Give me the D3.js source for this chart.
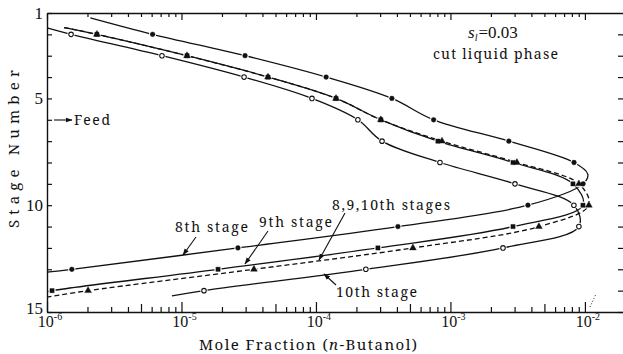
<!DOCTYPE html>
<html><head><meta charset="utf-8">
<script src="https://cdn.jsdelivr.net/npm/d3@7"></script>
<style>
body{margin:0;background:#fff}
svg{display:block}
svg text{font-family:"Noto Serif";}
svg text.num{font-family:"Liberation Serif";}
</style>
</head><body>
<svg id="chart" width="623" height="354" font-family="Noto Serif"></svg>
<script>
// Axis ticks
const stageLabels = [1, 5, 10, 15];
const stageTicks = d3.range(1, 16);
const decadeTicks = [1e-6, 1e-5, 1e-4, 1e-3, 1e-2];
const decadeExps = ["-6", "-5", "-4", "-3", "-2"];

// Liquid-phase n-butanol profile, side cut at the 8th stage (filled circles)
const cut8Stage = [1.23, 2, 3, 4, 5, 6, 7, 8, 8.54, 9, 10, 11, 12, 13, 13.13];
const cut8Frac  = [2.1e-6, 6.1e-6, 2.97e-5, 1.19e-4, 3.67e-4, 7.5e-4, 2.72e-3, 8.3e-3, 1.05e-2, 9.7e-3, 3.77e-3, 4.07e-4, 2.63e-5, 1.53e-6, 1.0e-6];

// Side cut at the 9th stage (filled squares)
const cut9Stage = [1.68, 2, 3, 4, 5, 6, 7, 8, 9, 10, 11, 12, 13, 14, 14.06];
const cut9Frac  = [1.34e-6, 2.35e-6, 1.10e-5, 4.40e-5, 1.41e-4, 3.04e-4, 8.07e-4, 2.92e-3, 8.15e-3, 9.67e-3, 2.92e-3, 2.89e-4, 1.87e-5, 1.09e-6, 1.0e-6];

// Side cut at the 8th, 9th and 10th stages together (dashed, triangles)
const cutAllStage = [1.68, 2, 3, 4, 5, 6, 7, 8, 9, 10, 11, 12, 13, 14, 14.3];
const cutAllFrac  = [1.34e-6, 2.35e-6, 1.10e-5, 4.40e-5, 1.41e-4, 3.04e-4, 8.65e-4, 3.12e-3, 9.02e-3, 1.07e-2, 4.55e-3, 5.26e-4, 3.46e-5, 2.02e-6, 1.0e-6];

// Side cut at the 10th stage (open circles)
const cut10Stage = [1.70, 2, 3, 4, 5, 6, 7, 8, 9, 10, 11, 12, 13, 14, 14.25];
const cut10Frac  = [1e-6, 1.51e-6, 7.16e-6, 2.92e-5, 9.34e-5, 2.05e-4, 3.10e-4, 8.36e-4, 3.02e-3, 8.28e-3, 9.02e-3, 2.46e-3, 2.35e-4, 1.47e-5, 8.5e-6];

const W = 623, H = 354;
const svg = d3.select("#chart");

const x = d3.scaleLog().domain([1e-6, 1.92e-2]).range([47, 623]);
const y = d3.scaleLinear().domain([1, 15]).range([13, 312]);

// minor log ticks within the visible range
const minor2 = [], minor5 = [];
decadeTicks.forEach(d => {
  for (let k = 2; k <= 9; k++) {
    const v = d * k;
    if (v > x.domain()[1]) continue;
    (k === 5 ? minor5 : minor2).push(v);
  }
});

const ink = "#111";
function styleAxis(g, keepDomain) {
  g.attr("font-family", null).attr("font-size", null);
  g.selectAll("line").attr("stroke", ink).attr("stroke-width", 1.2);
  g.selectAll("text").remove();
  if (keepDomain) g.select(".domain").attr("stroke", ink).attr("stroke-width", 1.4);
  else g.select(".domain").remove();
}

// bottom axis (ticks point inward)
const gb = svg.append("g").attr("transform", `translate(0,${y(15)})`);
gb.call(d3.axisBottom(x).tickValues(decadeTicks).tickSize(-10).tickSizeOuter(0)); styleAxis(gb, true);
const gb5 = svg.append("g").attr("transform", `translate(0,${y(15)})`);
gb5.call(d3.axisBottom(x).tickValues(minor5).tickSize(-8)); styleAxis(gb5, false);
const gbm = svg.append("g").attr("transform", `translate(0,${y(15)})`);
gbm.call(d3.axisBottom(x).tickValues(minor2).tickSize(-5)); styleAxis(gbm, false);

// top axis
const gt = svg.append("g").attr("transform", `translate(0,${y(1)})`);
gt.call(d3.axisTop(x).tickValues(decadeTicks).tickSize(-7).tickSizeOuter(0)); styleAxis(gt, true);
const gtm = svg.append("g").attr("transform", `translate(0,${y(1)})`);
gtm.call(d3.axisTop(x).tickValues(minor2.concat(minor5)).tickSize(-4)); styleAxis(gtm, false);

// left and right axes
const gl = svg.append("g").attr("transform", `translate(${x(1e-6)},0)`);
gl.call(d3.axisLeft(y).tickValues(stageTicks).tickSize(-5).tickSizeOuter(0)); styleAxis(gl, true);
const gr = svg.append("g").attr("transform", `translate(${W},0)`);
gr.call(d3.axisRight(y).tickValues(stageTicks.slice(1)).tickSize(-5)); styleAxis(gr, false);

// tick labels
svg.append("g").selectAll("text").data(stageLabels).join("text")
  .attr("class", "num")
  .attr("x", 43).attr("y", d => y(d) + (d === 15 ? -4 : 0)).attr("dy", "0.35em")
  .attr("text-anchor", "end").attr("fill", ink).attr("font-size", 17)
  .text(d => d);

const xl = svg.append("g").selectAll("text").data(decadeTicks).join("text")
  .attr("class", "num")
  .attr("x", d => x(d) + 3).attr("y", 327)
  .attr("text-anchor", "middle").attr("fill", ink).attr("font-size", 16);
xl.append("tspan").text("10");
xl.append("tspan").attr("dy", -7).attr("font-size", 10).text((d, i) => decadeExps[i]);

// axis titles
const xt = svg.append("text").attr("x", 199).attr("y", 350).attr("fill", ink)
  .attr("font-size", 15)
  .attr("textLength", 218).attr("lengthAdjust", "spacing");
xt.append("tspan").text("Mole Fraction (");
xt.append("tspan").attr("font-style", "italic").text("n");
xt.append("tspan").text("-Butanol)");

svg.append("text").attr("transform", "translate(19,149) rotate(-90)")
  .attr("text-anchor", "middle").attr("fill", ink).attr("font-size", 15)
  .attr("textLength", 158).attr("lengthAdjust", "spacing")
  .text("Stage Number");

// curves
const line = d3.line().x(d => x(d.v)).y(d => y(d.s)).curve(d3.curveCatmullRom.alpha(0.5));
function pts(st, fr) { return st.map((s, i) => ({ s, v: fr[i] })); }

const series = [
  { data: pts(cut8Stage, cut8Frac), dash: null, sym: "circle" },
  { data: pts(cut10Stage, cut10Frac), dash: null, sym: "open" },
  { data: pts(cutAllStage, cutAllFrac), dash: "5,3", sym: "triangle" },
  { data: pts(cut9Stage, cut9Frac), dash: null, sym: "square" },
];

const gLines = svg.append("g");
series.forEach(sr => {
  gLines.append("path").attr("d", line(sr.data)).attr("fill", "none")
    .attr("stroke", ink).attr("stroke-width", 1.3)
    .attr("stroke-dasharray", sr.dash);
});

// white gaps around the plotted points
const gHalo = svg.append("g");
series.forEach(sr => {
  gHalo.selectAll(null).data(sr.data.filter(d => Number.isInteger(d.s))).join("circle")
    .attr("cx", d => x(d.v)).attr("cy", d => y(d.s)).attr("r", 3.6).attr("fill", "#fff");
});

const symType = { circle: d3.symbolCircle, open: d3.symbolCircle, triangle: d3.symbolTriangle, square: d3.symbolSquare };
const symSize = { circle: 18, open: 16, triangle: 20, square: 18 };
const gMarks = svg.append("g");
series.forEach(sr => {
  gMarks.selectAll(null).data(sr.data.filter(d => Number.isInteger(d.s))).join("path")
    .attr("transform", d => `translate(${x(d.v)},${y(d.s)})`)
    .attr("d", d3.symbol(symType[sr.sym], symSize[sr.sym]))
    .attr("fill", sr.sym === "open" ? "#fff" : ink)
    .attr("stroke", ink).attr("stroke-width", sr.sym === "open" ? 1.1 : 0.4);
});

// arrowheads
svg.append("defs").append("marker").attr("id", "ah")
  .attr("viewBox", "0 0 10 10").attr("refX", 9).attr("refY", 5)
  .attr("markerWidth", 7).attr("markerHeight", 7).attr("markerUnits", "userSpaceOnUse")
  .attr("orient", "auto")
  .append("path").attr("d", "M0,1.5L10,5L0,8.5Z").attr("fill", ink);

const arrows = [
  [54, 120, 72, 120],
  [196, 237, 183, 255],
  [268, 231, 245, 264],
  [345, 213, 319, 260],
  [336, 285, 324, 274],
];
svg.append("g").selectAll("line").data(arrows).join("line")
  .attr("x1", d => d[0]).attr("y1", d => d[1]).attr("x2", d => d[2]).attr("y2", d => d[3])
  .attr("stroke", ink).attr("stroke-width", 1.1).attr("marker-end", "url(#ah)");

// annotations
const notes = [
  { t: "Feed", x: 74, y: 125, len: 36 },
  { t: "cut liquid phase", x: 433, y: 59, len: 125 },
  { t: "8th stage", x: 175, y: 232, len: 73 },
  { t: "9th stage", x: 259, y: 227, len: 73 },
  { t: "8,9,10th stages", x: 332, y: 210, len: 118 },
  { t: "10th stage", x: 336, y: 297, len: 81 },
];
svg.append("g").selectAll("text").data(notes).join("text")
  .attr("x", d => d.x).attr("y", d => d.y).attr("fill", ink).attr("font-size", 14)
  .attr("textLength", d => d.len).attr("lengthAdjust", "spacing")
  .text(d => d.t);

const sl = svg.append("text").attr("class", "num").attr("x", 468).attr("y", 38)
  .attr("fill", ink).attr("font-size", 17);
sl.append("tspan").attr("font-style", "italic").text("s");
sl.append("tspan").attr("font-style", "italic").attr("font-size", 10).attr("dy", 3).text("l");
sl.append("tspan").attr("dy", -3).attr("dx", 1).text("=0.03");

// small dotted stroke near the lower right corner
svg.append("line").attr("x1", 590).attr("y1", 307).attr("x2", 596).attr("y2", 294)
  .attr("stroke", ink).attr("stroke-width", 0.9).attr("stroke-dasharray", "1,2");
</script>
</body></html>
